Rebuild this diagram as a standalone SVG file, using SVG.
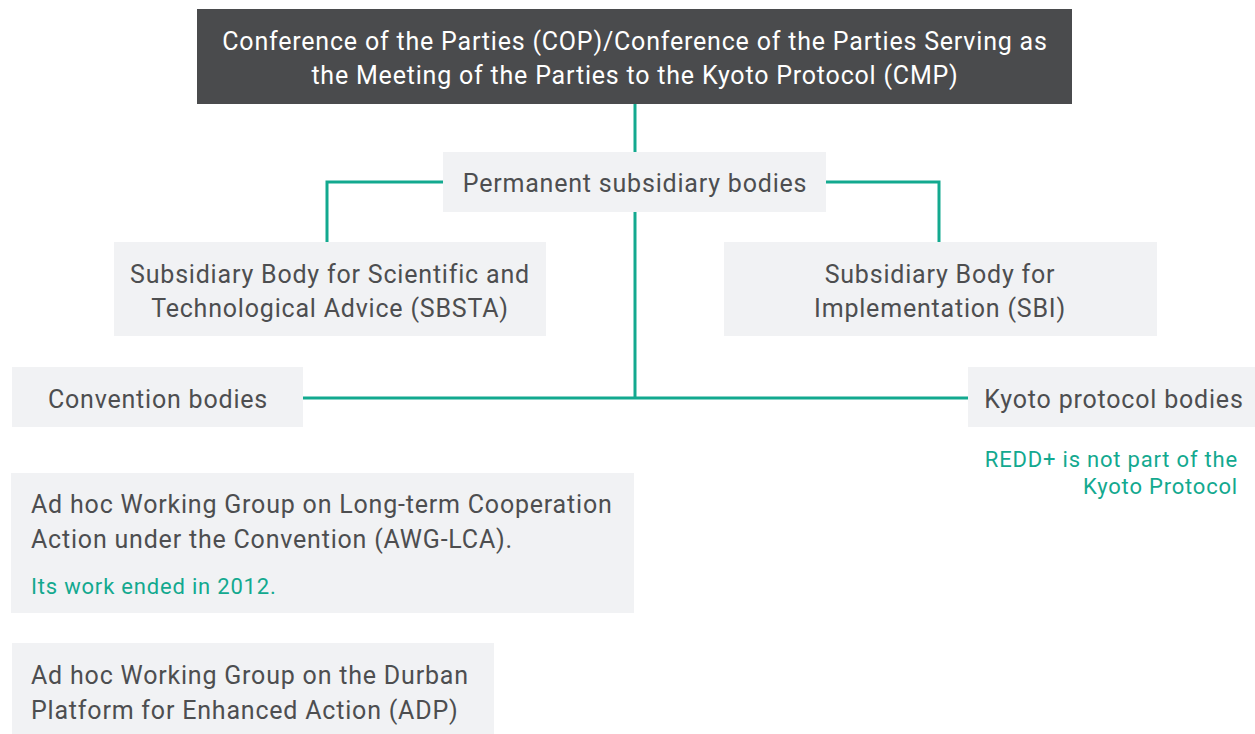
<svg xmlns="http://www.w3.org/2000/svg" width="1255" height="734" viewBox="0 0 1255 734">
<style>
.box{fill:#f1f2f4}
.t{font-family:"Roboto","Liberation Sans",sans-serif;font-size:25px;letter-spacing:0.8px;fill:#4d4e50}
.w{fill:#ffffff}
.note{font-family:"Roboto","Liberation Sans",sans-serif;font-size:22px;letter-spacing:0.8px;fill:#13a98f}
.c{text-anchor:middle}
.r{text-anchor:end}
.ln{fill:none;stroke:#13a98f;stroke-width:3}
</style>
<rect width="1255" height="734" fill="#ffffff"/>
<g id="connectors">
<path class="ln" d="M635 104V152"/>
<path class="ln" d="M443 182H327V242"/>
<path class="ln" d="M826 182H939V242"/>
<path class="ln" d="M635 212V398"/>
<path class="ln" d="M303 398H968"/>
</g>
<g id="cop">
<rect x="197" y="9" width="875" height="95" fill="#4a4b4d"/>
<text class="t w c" x="635" y="50">Conference of the Parties (COP)/Conference of the Parties Serving as</text>
<text class="t w c" x="635" y="84">the Meeting of the Parties to the Kyoto Protocol (CMP)</text>
</g>
<g id="permanent">
<rect class="box" x="443" y="152" width="383" height="60"/>
<text class="t c" x="635" y="192">Permanent subsidiary bodies</text>
</g>
<g id="sbsta">
<rect class="box" x="114" y="242" width="432" height="94"/>
<text class="t c" x="330" y="283">Subsidiary Body for Scientific and</text>
<text class="t c" x="330" y="317">Technological Advice (SBSTA)</text>
</g>
<g id="sbi">
<rect class="box" x="724" y="242" width="433" height="94"/>
<text class="t c" x="940" y="283">Subsidiary Body for</text>
<text class="t c" x="940" y="317">Implementation (SBI)</text>
</g>
<g id="convention">
<rect class="box" x="12" y="367" width="291" height="60"/>
<text class="t c" x="158" y="408">Convention bodies</text>
</g>
<g id="kyoto">
<rect class="box" x="968" y="367" width="287" height="60"/>
<text class="t c" x="1114" y="408">Kyoto protocol bodies</text>
<text class="note r" x="1238" y="467">REDD+ is not part of the</text>
<text class="note r" x="1238" y="494">Kyoto Protocol</text>
</g>
<g id="awg-lca">
<rect class="box" x="11" y="473" width="623" height="140"/>
<text class="t" x="31" y="513">Ad hoc Working Group on Long-term Cooperation</text>
<text class="t" x="31" y="548">Action under the Convention (AWG-LCA).</text>
<text class="note" x="31" y="594">Its work ended in 2012.</text>
</g>
<g id="adp">
<rect class="box" x="12" y="643" width="482" height="91"/>
<text class="t" x="31" y="684">Ad hoc Working Group on the Durban</text>
<text class="t" x="31" y="719">Platform for Enhanced Action (ADP)</text>
</g>
</svg>
